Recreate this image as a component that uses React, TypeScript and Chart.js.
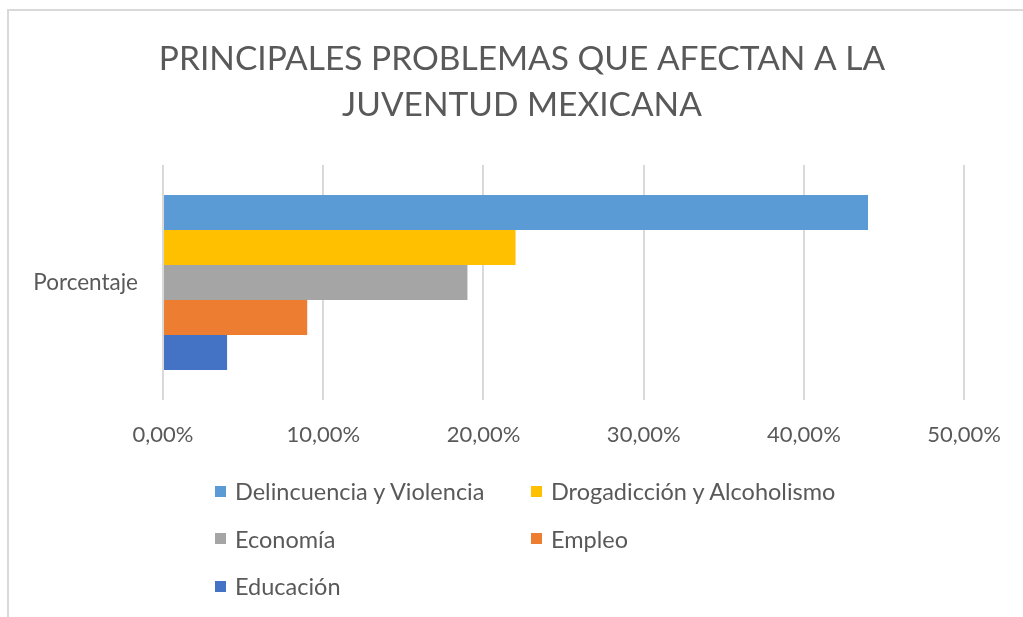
import React, { useEffect, useRef } from "react";
import { Chart, registerables } from "chart.js";

Chart.register(...registerables);

const categories = ["Porcentaje"];
const seriesNames = [
  "Delincuencia y Violencia",
  "Drogadicción y Alcoholismo",
  "Economía",
  "Empleo",
  "Educación",
];
const delincuencia = [44];
const drogadiccion = [22];
const economia = [19];
const empleo = [9];
const educacion = [4];
const seriesValues = [delincuencia, drogadiccion, economia, empleo, educacion];
const seriesColors = ["#5B9BD5", "#FFC000", "#A5A5A5", "#ED7D31", "#4472C4"];
const xMin = 0;
const xMax = 50;
const xStep = 10;
const titleLines = ["PRINCIPALES PROBLEMAS QUE AFECTAN A LA", "JUVENTUD MEXICANA"];

const FONT = "Lato, 'Open Sans', sans-serif";
const TEXT = "#595959";
const GRID = "#D9D9D9";

export default function App() {
  const ref = useRef<HTMLCanvasElement | null>(null);

  useEffect(() => {
    if (!ref.current) return;
    const chart = new Chart(ref.current, {
      type: "bar",
      data: {
        labels: categories,
        datasets: seriesNames.map((name, i) => ({
          label: name,
          data: seriesValues[i],
          backgroundColor: seriesColors[i],
          borderWidth: 0,
          categoryPercentage: 0.745,
          barPercentage: 1,
          xAxisID: "x",
          yAxisID: "y",
        })),
      },
      options: {
        indexAxis: "y",
        responsive: false,
        animation: false,
        maintainAspectRatio: false,
        layout: { padding: { left: 25, right: 4, top: 0, bottom: 157 } },
        plugins: {
          legend: { display: false },
          tooltip: { enabled: false },
          title: {
            display: true,
            text: titleLines,
            color: TEXT,
            font: { family: FONT, size: 33.5, weight: "normal", lineHeight: 46 / 33.5 },
            padding: { top: 36, bottom: 37 },
          },
        },
        scales: {
          x: {
            type: "linear",
            min: xMin,
            max: xMax,
            afterFit: (s: any) => {
              s.height = 60;
            },
            ticks: {
              stepSize: xStep,
              color: TEXT,
              font: { family: FONT, size: 22 },
              padding: 22,
              callback: (v: any) => Number(v).toFixed(2).replace(".", ",") + "%",
            },
            grid: { color: GRID, lineWidth: 2, drawTicks: false },
            border: { display: false },
          },
          y: {
            afterFit: (s: any) => {
              s.width = 138;
            },
            ticks: {
              color: TEXT,
              font: { family: FONT, size: 22.5 },
              padding: 25,
            },
            grid: { display: false, drawTicks: false },
            border: { display: false },
          },
          yRight: {
            type: "category",
            position: "right",
            labels: categories,
            afterFit: (s: any) => {
              s.width = 54;
            },
            ticks: { display: false },
            grid: { display: false, drawTicks: false },
            border: { display: false },
          },
        },
      },
    });
    return () => chart.destroy();
  }, []);

  const legendCols = [215, 531];
  return (
    <div
      style={{
        position: "fixed",
        left: 0,
        top: 0,
        width: 1023,
        height: 617,
        background: "#fff",
        overflow: "hidden",
      }}
    >
      <canvas ref={ref} width={1023} height={617} style={{ display: "block", width: 1023, height: 617 }} />
      <div style={{ position: "absolute", left: 7, top: 9, width: 1016, height: 2, background: GRID }} />
      <div style={{ position: "absolute", left: 7, top: 9, width: 2, height: 608, background: GRID }} />
      {seriesNames.map((name, i) => {
        const col = i % 2;
        const row = Math.floor(i / 2);
        const cy = 491 + row * 47.5;
        return (
          <div
            key={name}
            style={{
              position: "absolute",
              left: legendCols[col],
              top: cy - 15,
              height: 30,
              display: "flex",
              alignItems: "center",
              fontFamily: FONT,
              fontSize: 23.5,
              color: TEXT,
              whiteSpace: "nowrap",
            }}
          >
            <span
              style={{
                display: "inline-block",
                width: 11,
                height: 11,
                background: seriesColors[i],
                marginRight: 9,
              }}
            />
            <span>{name}</span>
          </div>
        );
      })}
    </div>
  );
}
